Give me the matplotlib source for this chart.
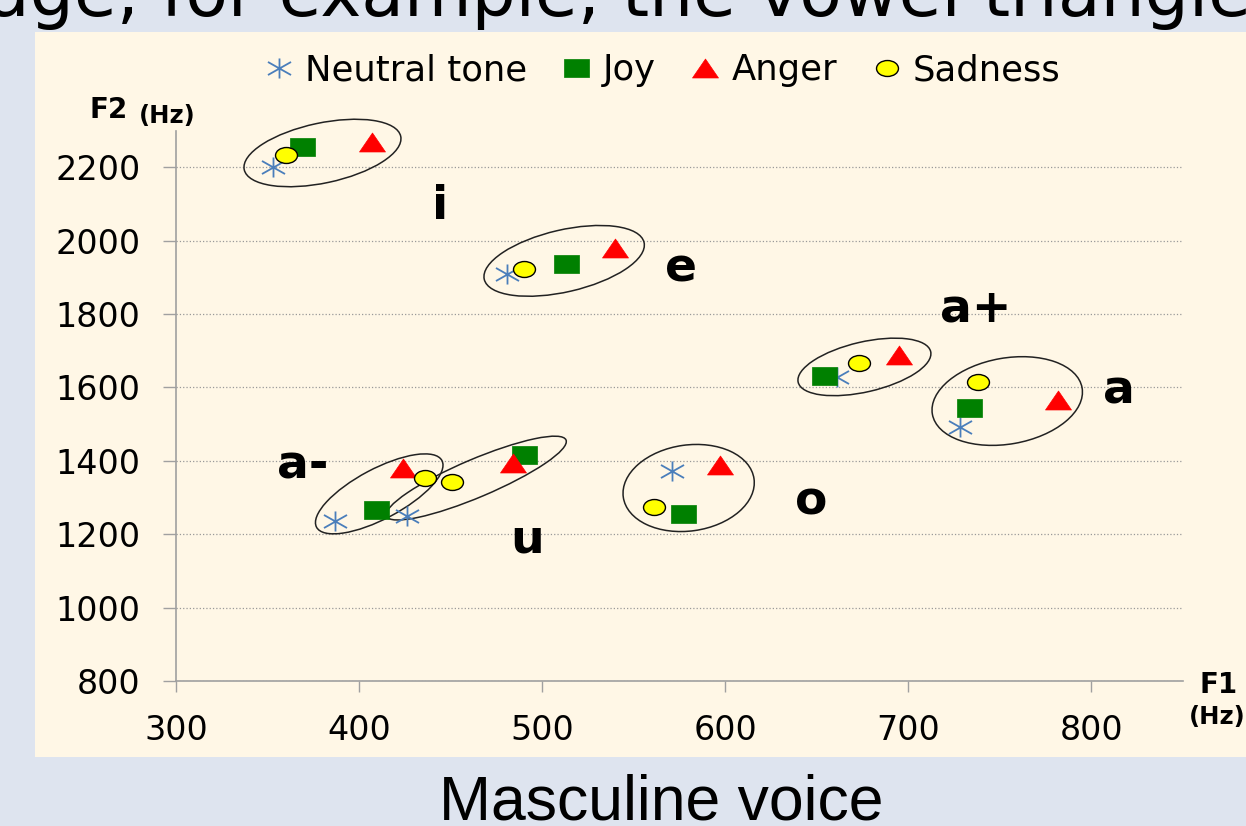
import numpy as np
import matplotlib
matplotlib.use('Agg')
import matplotlib.pyplot as plt
from matplotlib.path import Path
from matplotlib.patches import Ellipse, Rectangle
from matplotlib.transforms import ScaledTranslation, Affine2D

# vogais (ordem das séries)
vogais = ['i', 'e', 'a+', 'a', 'o', 'a-', 'u']

# F1 / F2 (Hz), por emoção
neutro_f1 = [353, 481, 661, 728, 571, 387, 426]
neutro_f2 = [2200, 1910, 1628, 1492, 1371, 1235, 1251]
alegria_f1 = [369, 513, 654, 733, 577, 409, 490]
alegria_f2 = [2254, 1936, 1631, 1543, 1255, 1266, 1415]
raiva_f1 = [407, 540, 695, 782, 597, 424, 484]
raiva_f2 = [2269, 1980, 1688, 1566, 1388, 1380, 1394]
tristeza_f1 = [360, 490, 673, 738, 561, 436, 451]
tristeza_f2 = [2233, 1924, 1667, 1615, 1274, 1353, 1342]

# elipses que agrupam cada vogal: centro (Hz), largura/altura (px), ângulo
elipse_f1 = [380, 512, 676, 754, 580, 411, 464]
elipse_f2 = [2239, 1945, 1656, 1563, 1326, 1310, 1353]
elipse_larg = [160, 164, 136, 152, 132, 142, 195]
elipse_alt = [60, 62, 50, 86, 86, 50, 38]
elipse_ang = [12, 13, 13, 10, 8, 28, 23]

# posição dos rótulos das vogais (Hz)
rotulo_f1 = [444, 576, 737, 815, 647, 369, 492]
rotulo_f2 = [2059, 1888, 1779, 1555, 1255, 1353, 1149]

fundo = '#dee4ef'
creme = '#fff7e6'
cinza = '#a0a0a0'

fig = plt.figure(figsize=(12.46, 8.26), dpi=100, facecolor=fundo)
fig.add_artist(Rectangle((35 / 1246, 69 / 826), 1, 725 / 826, transform=fig.transFigure,
                         facecolor=creme, edgecolor='none', zorder=0))

ax = fig.add_axes([0.14125, 0.17554, 0.80819, 0.66634])
ax.set_facecolor('none')

# marcadores "esticados" como no original
M, L = Path.MOVETO, Path.LINETO
estrela = Path([(0, -1), (0, 1), (-1.15, -0.65), (1.15, 0.65), (-1.15, 0.65), (1.15, -0.65)],
               [M, L, M, L, M, L])
quadrado = Path([(-1.39, -1), (1.39, -1), (1.39, 1), (-1.39, 1), (-1.39, -1)], closed=True)
triangulo = Path([(-1.37, -1), (1.37, -1), (0, 1), (-1.37, -1)], closed=True)
circulo = Affine2D().scale(1.375, 1).transform_path(Path.unit_circle())

ax.plot(neutro_f1, neutro_f2, ls='none', marker=estrela, ms=16.6, mfc='none',
        mec='#4a7ebb', mew=1.3, label='Neutral tone', zorder=3)
ax.plot(alegria_f1, alegria_f2, ls='none', marker=quadrado, ms=18, mfc='#008000',
        mec='#008000', mew=0.5, label='Joy', zorder=3)
ax.plot(raiva_f1, raiva_f2, ls='none', marker=triangulo, ms=18.7, mfc='#ff0000',
        mec='#ff0000', mew=0.5, label='Anger', zorder=3)
ax.plot(tristeza_f1, tristeza_f2, ls='none', marker=circulo, ms=15.8, mfc='#ffff00',
        mec='black', mew=1.0, label='Sadness', zorder=3)

# elipses em pixels, centradas nas coordenadas de dados
for cx, cy, w, h, a in zip(elipse_f1, elipse_f2, elipse_larg, elipse_alt, elipse_ang):
    tr = fig.dpi_scale_trans + ScaledTranslation(cx, cy, ax.transData)
    ax.add_patch(Ellipse((0, 0), w / 100, h / 100, angle=a, transform=tr, clip_on=False,
                         facecolor='none', edgecolor='#222222', lw=1.1, zorder=2))

for v, x, y in zip(vogais, rotulo_f1, rotulo_f2):
    ax.text(x, y, v, ha='center', va='baseline', fontsize=34, fontweight='bold',
            family='DejaVu Sans', zorder=4)

ax.set_xlim(300, 850)
ax.set_ylim(800, 2300)
ax.set_xticks(range(300, 801, 100))
ax.set_yticks(range(800, 2201, 200))
for s in ['top', 'right']:
    ax.spines[s].set_visible(False)
for s in ['left', 'bottom']:
    ax.spines[s].set_color(cinza)
    ax.spines[s].set_linewidth(1.2)
ax.tick_params(axis='x', direction='out', length=8, width=1, color=cinza, pad=16, labelsize=24)
ax.tick_params(axis='y', direction='out', length=9.5, width=1, color=cinza, pad=16, labelsize=24)
ax.yaxis.grid(True, ls=':', color='#999999', lw=0.9)
ax.set_axisbelow(True)

# rótulos dos eixos
fig.text(90 / 1246, 1 - 118 / 826, 'F2', fontsize=20, fontweight='bold', va='baseline')
fig.text(139 / 1246, 1 - 123 / 826, '(Hz)', fontsize=17.5, fontweight='bold', va='baseline')
fig.text(1199 / 1246, 1 - 693 / 826, 'F1', fontsize=20, fontweight='bold', va='baseline')
fig.text(1189 / 1246, 1 - 724 / 826, '(Hz)', fontsize=17.5, fontweight='bold', va='baseline')

ax.legend(loc='center', bbox_to_anchor=(0.5317, 0.915), bbox_transform=fig.transFigure,
          ncol=4, frameon=False, fontsize=25.5, handlelength=0.8, handletextpad=0.34,
          columnspacing=1.0, borderpad=0, borderaxespad=0)

# textos do slide
fig.text(-13 / 1246, 1 - 16 / 826, 'age, for example, the vowel triangle', fontsize=50,
         ha='left', va='baseline', family='DejaVu Sans')
fig.text(661.5 / 1246, 1 - 819 / 826, 'Masculine voice', fontsize=45, ha='center',
         va='baseline', family='Liberation Sans')

fig.savefig('out.png', dpi=100, facecolor=fundo)
